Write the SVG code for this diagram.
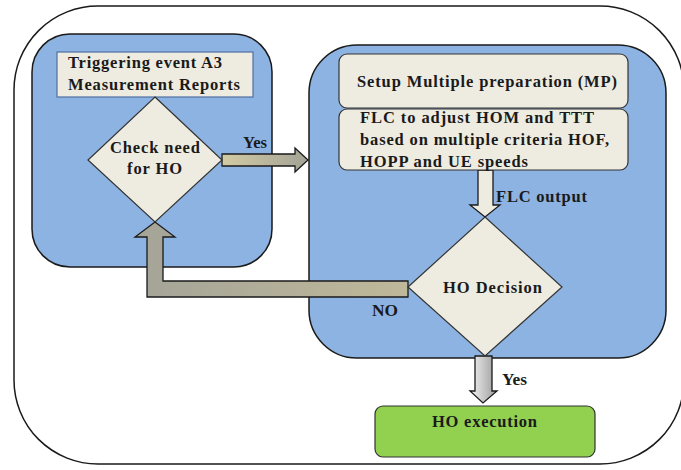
<svg xmlns="http://www.w3.org/2000/svg" width="681" height="470" viewBox="0 0 681 470">
<defs>
<linearGradient id="gKhaki" x1="0" y1="0" x2="1" y2="0">
<stop offset="0" stop-color="#d2cba4"/>
<stop offset="1" stop-color="#a3a396"/>
</linearGradient>
<linearGradient id="gNo" x1="0" y1="0" x2="1" y2="0">
<stop offset="0" stop-color="#a4a498"/>
<stop offset="1" stop-color="#bfb899"/>
</linearGradient>
<linearGradient id="gGray" x1="0" y1="0" x2="1" y2="0">
<stop offset="0" stop-color="#f4f4f4"/>
<stop offset="1" stop-color="#9a9a9a"/>
</linearGradient>
</defs>
<style>
.t{font-family:"Liberation Serif","Times New Roman",serif;font-weight:bold;font-size:16.5px;fill:#1a1a1a}
.blue{fill:#8db3e2;stroke:#1a1a1a;stroke-width:1.5}
.cream{fill:#eeece1;stroke:#333;stroke-width:1.2}
.arr{stroke:#1a1a1a;stroke-width:1.3;stroke-linejoin:miter}
</style>
<rect width="681" height="470" fill="#ffffff"/>
<g id="outer">
<rect x="14" y="6" width="670" height="458" rx="84" ry="84" fill="#ffffff" stroke="#1a1a1a" stroke-width="1.5"/>
</g>
<g id="left-panel">
<rect class="blue" x="32" y="34" width="240" height="233" rx="38" ry="38"/>
</g>
<g id="right-panel">
<rect class="blue" x="309" y="45" width="357" height="313" rx="48" ry="48"/>
</g>
<g id="connectors">
<polygon class="arr" fill="url(#gKhaki)" points="222,154 295,154 295,148 308,160 295,172 295,166 222,166"/>
<polygon class="arr" fill="url(#gNo)" points="408,281 163,281 163,237 175,237 155,222 135,237 147,237 147,297 408,297"/>
<polygon class="arr" fill="#eeece1" points="478,170 493,170 493,205 500,205 485,217 470,205 478,205"/>
<polygon class="arr" fill="url(#gGray)" points="475,356 492,356 492,391 497,391 483,403 470,391 475,391"/>
<text class="t" x="243" y="148" textLength="24" lengthAdjust="spacingAndGlyphs">Yes</text>
<text class="t" x="496" y="202" textLength="91" lengthAdjust="spacing">FLC output</text>
<text class="t" x="372" y="316" textLength="26" lengthAdjust="spacingAndGlyphs">NO</text>
<text class="t" x="502" y="385" textLength="25" lengthAdjust="spacingAndGlyphs">Yes</text>
</g>
<g id="triggering">
<rect x="57" y="52" width="196" height="45" fill="#eeece1" stroke="#4f6fa0" stroke-width="1.2"/>
<text class="t" x="68" y="68" textLength="154" lengthAdjust="spacing">Triggering event A3</text>
<text class="t" x="68" y="90" textLength="172" lengthAdjust="spacing">Measurement Reports</text>
</g>
<g id="check">
<polygon class="cream" points="155,97 222,160 155,222 88,160"/>
<text class="t" x="110" y="153" textLength="90" lengthAdjust="spacing">Check need</text>
<text class="t" x="127" y="174" textLength="55" lengthAdjust="spacing">for HO</text>
</g>
<g id="setup">
<rect class="cream" x="339" y="54" width="289" height="54" rx="8" ry="8"/>
<text class="t" x="357" y="87" textLength="260" lengthAdjust="spacing">Setup Multiple preparation (MP)</text>
</g>
<g id="flc">
<rect class="cream" x="339" y="109" width="289" height="61" rx="8" ry="8"/>
<text class="t" x="360" y="123" textLength="234" lengthAdjust="spacing">FLC to adjust HOM and TTT</text>
<text class="t" x="360" y="145" textLength="249" lengthAdjust="spacing">based on multiple criteria HOF,</text>
<text class="t" x="360" y="167" textLength="168" lengthAdjust="spacing">HOPP and UE speeds</text>
</g>
<g id="decision">
<polygon class="cream" points="485,217 562,287 485,356 408,287"/>
<text class="t" x="443" y="293" textLength="99" lengthAdjust="spacing">HO Decision</text>
</g>
<g id="execution">
<rect x="375" y="406" width="220" height="51" rx="8" ry="8" fill="#92d050" stroke="#333" stroke-width="1.2"/>
<text class="t" x="432" y="427" textLength="105" lengthAdjust="spacing">HO execution</text>
</g>
</svg>
